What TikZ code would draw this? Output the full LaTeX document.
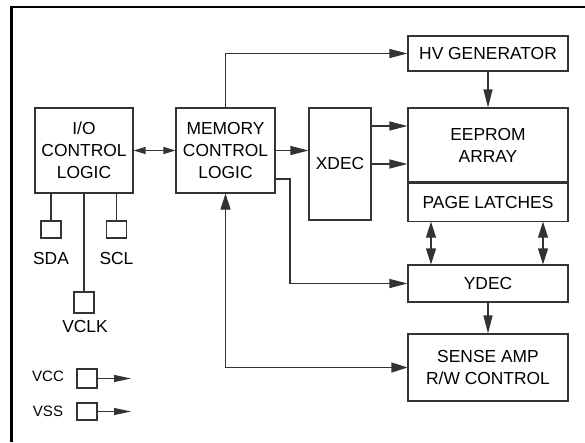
\documentclass[tikz,border=0pt]{standalone}
\usepackage{fontspec}
\setmainfont{Liberation Sans}
\usetikzlibrary{arrows.meta, positioning}
\definecolor{linecol}{gray}{0.2}

\begin{document}
\begin{tikzpicture}[x=1pt, y=-1pt,
    font=\fontsize{17.4}{22}\selectfont,
    blk/.style={draw=linecol, line width=1.1pt, align=center, inner sep=0pt},
    pinbox/.style={draw=linecol, line width=1.1pt, minimum width=20pt, minimum height=17pt, inner sep=0pt},
    wire/.style={draw=linecol, line width=1.1pt},
    arr/.style={wire, -{Triangle[length=18pt, width=9pt]}},
    darr/.style={wire, {Triangle[length=16pt, width=10pt]}-{Triangle[length=16pt, width=10pt]}},
    sarr/.style={wire, {Triangle[length=12pt, width=7pt]}-{Triangle[length=12pt, width=7pt]}},
    pinarr/.style={wire, -{Triangle[length=17pt, width=7pt]}}]

    \useasboundingbox (0,0) rectangle (585,442);
    % outer frame
    \draw[line width=2.3pt] (585,7) -- (11.5,7) -- (11.5,442);

    % blocks
    \node[blk, minimum width=98pt, minimum height=85pt] (io) at (84,150.5) {I/O\\CONTROL\\LOGIC};
    \node[blk, minimum width=99pt, minimum height=85pt] (mem) at (225.5,150.5) {MEMORY\\CONTROL\\LOGIC};
    \node[blk, minimum width=62pt, minimum height=112pt] (xdec) at (340,164) {XDEC};
    \node[blk, minimum width=160pt, minimum height=35pt] (hv) at (488,53.5) {HV GENERATOR};
    \node[blk, minimum width=160pt, minimum height=74pt] (array) at (488,145) {EEPROM\\ARRAY};
    \node[blk, minimum width=160pt, minimum height=38pt, below=0pt of array] (latch) {PAGE LATCHES};
    \node[blk, minimum width=160pt, minimum height=37pt] (ydec) at (488,283.5) {YDEC};
    \node[blk, minimum width=160pt, minimum height=67pt] (sense) at (488,367.5) {SENSE AMP\\R/W CONTROL};

    % pins
    \node[pinbox] (sda) at (51,229.5) {};
    \node[pinbox] (scl) at (116.5,229.5) {};
    \node[pinbox, minimum height=21pt] (vclk) at (84,302.5) {};
    \node[pinbox, minimum height=19pt] (vcc) at (87,378.5) {};
    \node[pinbox] (vss) at (87,411.5) {};
    \node (sdatxt) at (51,259) {SDA};
    \node (scltxt) at (116.5,259) {SCL};
    \node (vclktxt) at (85,327) {VCLK};
    \node[font=\fontsize{15}{18}\selectfont] (vcctxt) at (48,376) {VCC};
    \node[font=\fontsize{15}{18}\selectfont] (vsstxt) at (48,411) {VSS};
    \coordinate (vccend) at (131,378.5);
    \coordinate (vssend) at (131,411.5);
    \coordinate (bend) at (290,179);

    % connections
    \draw[wire] (io.south -| sda) -- (sda.north);
    \draw[wire] (io.south -| scl) -- (scl.north);
    \draw[wire] (io.south) -- (vclk.north);
    \draw[pinarr] (vcc.east) -- (vccend);
    \draw[pinarr] (vss.east) -- (vssend);
    \draw[sarr] (io.east) -- (mem.west);
    \draw[arr] (mem.north) |- (hv.west);
    \draw[arr] (hv.south) -- (array.north);
    \draw[arr] (mem.east) -- (mem.east -| xdec.west);
    \draw[arr] ([yshift=38pt]xdec.east) -- ([yshift=38pt]xdec.east -| array.west);
    \draw[arr] (xdec.east) -- (xdec.east -| array.west);
    \draw[arr] (mem.east |- bend) -- (bend) |- (ydec.west);
    \draw[darr] (mem.south) |- (sense.west);
    \draw[darr] ([xshift=-57pt]latch.south) -- ([xshift=-57pt]ydec.north);
    \draw[darr] ([xshift=55pt]latch.south) -- ([xshift=55pt]ydec.north);
    \draw[arr] (ydec.south) -- (sense.north);
\end{tikzpicture}
\end{document}
